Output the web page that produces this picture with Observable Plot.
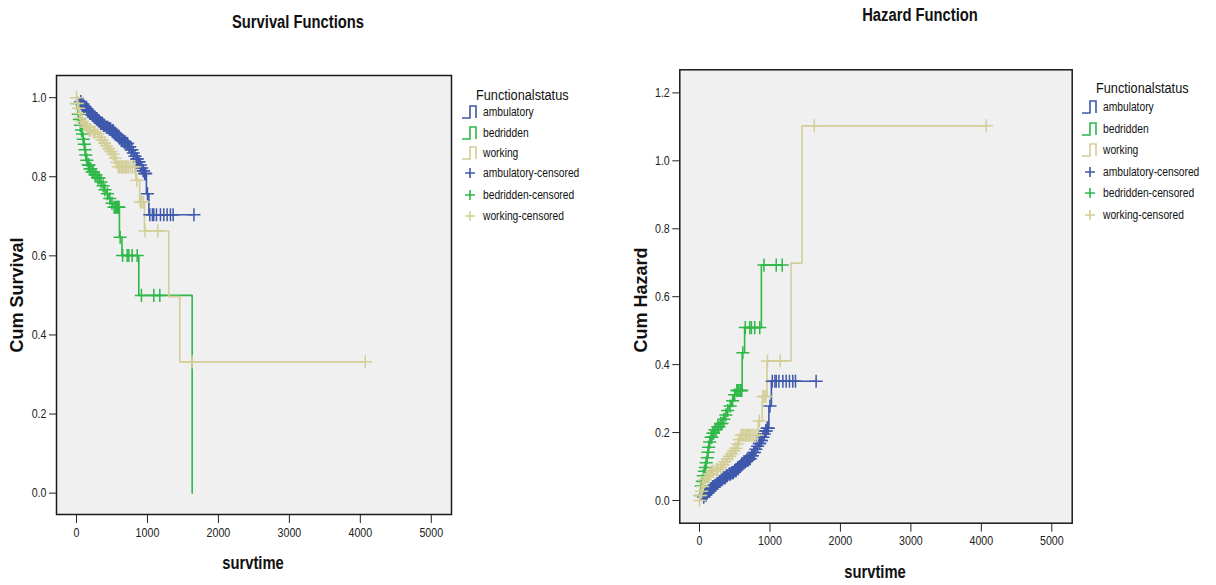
<!DOCTYPE html>
<html><head><meta charset="utf-8">
<script src="https://cdn.jsdelivr.net/npm/d3@7"></script>
<script src="https://cdn.jsdelivr.net/npm/@observablehq/plot@0.6"></script>
<style>
html,body{margin:0;padding:0;background:#fff;}
#root{position:relative;width:1216px;height:585px;overflow:hidden;font-family:'Liberation Sans',Arial,sans-serif;color:#111;}
.abs{position:absolute;white-space:nowrap;line-height:1;}
.ctr{transform:translate(-50%,-50%) scaleX(0.82);}
.title{font-weight:bold;font-size:18px;}
.xlab{font-weight:bold;font-size:18px;}
.ylab{font-weight:bold;font-size:18px;transform:translate(-50%,-50%) rotate(-90deg);}
.legtitle{font-size:15.5px;transform-origin:0 50%;transform:translateY(-50%) scaleX(0.82);}
.legtext{font-size:12.5px;transform-origin:0 50%;transform:translateY(-50%) scaleX(0.82);}
.chart{position:absolute;top:0;}
.chart svg{overflow:visible;}
</style></head>
<body><div id="root"></div>
<script>
// ---------- data ----------
const groups = ["ambulatory", "bedridden", "working"];
const groupColors = ["#3e58ac", "#2eb848", "#d3ce97"];
const legendLabels = ["ambulatory", "bedridden", "working", "ambulatory-censored", "bedridden-censored", "working-censored"];
const xTicks = [0, 1000, 2000, 3000, 4000, 5000];
const survTicks = [0, 0.2, 0.4, 0.6, 0.8, 1.0];
const hazTicks = [0, 0.2, 0.4, 0.6, 0.8, 1.0, 1.2];

// ambulatory
const ambTime = [0,20,45,70,95,120,150,180,210,240,270,300,335,370,410,450,490,530,560,590,620,660,700,730,760,790,815,840,865,890,910,930,950,985,1020];
const ambSurv = [1,0.995,0.99,0.984,0.978,0.972,0.966,0.961,0.956,0.951,0.946,0.941,0.935,0.93,0.925,0.921,0.916,0.91,0.905,0.898,0.892,0.888,0.884,0.876,0.868,0.86,0.852,0.845,0.838,0.83,0.822,0.815,0.808,0.757,0.704];
const ambHaz  = [0,0.005,0.010,0.016,0.022,0.028,0.035,0.040,0.045,0.050,0.056,0.061,0.067,0.073,0.078,0.082,0.088,0.094,0.100,0.108,0.114,0.119,0.123,0.132,0.141,0.151,0.160,0.168,0.177,0.186,0.196,0.205,0.213,0.278,0.351];
const ambCensor = [60,75,90,100,110,125,135,145,160,170,185,195,205,220,230,250,260,280,290,310,320,340,355,365,380,395,420,430,440,460,470,480,500,510,520,540,550,570,580,600,610,630,640,650,670,680,690,710,720,740,750,770,780,800,825,850,855,875,880,900,920,940,945,960,970,975,1000,1033,1070,1089,1127,1183,1230,1277,1324,1362,1655];

// bedridden
const bedTime = [0,5,12,20,30,45,60,75,90,100,115,125,140,155,180,210,250,290,330,360,390,420,450,480,510,605,640,878,1630];
const bedSurv = [1,0.985,0.97,0.958,0.945,0.93,0.918,0.908,0.895,0.882,0.868,0.855,0.842,0.83,0.82,0.812,0.805,0.797,0.787,0.777,0.767,0.757,0.745,0.733,0.723,0.647,0.601,0.5,0];
const bedHaz  = [0,0.015,0.030,0.043,0.057,0.073,0.086,0.097,0.111,0.126,0.142,0.157,0.172,0.186,0.198,0.208,0.217,0.227,0.239,0.252,0.265,0.278,0.294,0.311,0.324,0.435,0.509,0.693];
const bedCensor = [10,25,40,55,70,85,95,110,120,130,145,165,175,190,200,220,235,260,275,300,320,345,375,400,435,470,500,530,545,560,580,590,600,615,650,714,737,784,855,915,1089,1174];

// working
const workTime = [0,10,20,35,50,70,95,130,170,220,280,320,350,380,410,440,470,500,530,555,575,835,890,958,1300,1455];
const workSurv = [1,0.985,0.973,0.96,0.948,0.94,0.932,0.925,0.918,0.913,0.908,0.9,0.892,0.885,0.878,0.871,0.864,0.857,0.847,0.836,0.825,0.791,0.736,0.663,0.497,0.332];
const workHaz  = [0,0.015,0.027,0.041,0.053,0.062,0.070,0.078,0.086,0.091,0.097,0.105,0.114,0.122,0.130,0.138,0.146,0.154,0.166,0.179,0.192,0.234,0.306,0.411,0.699,1.103];
const workCensor = [0,15,30,45,60,80,105,120,140,155,180,200,240,260,300,330,360,395,425,455,485,515,545,565,590,610,630,650,670,690,710,730,760,790,820,850,900,920,945,965,1145,1629,4070];

const seriesTime = [ambTime, bedTime, workTime];
const seriesSurv = [ambSurv, bedSurv, workSurv];
const seriesHaz = [ambHaz, bedHaz, workHaz];
const seriesCensor = [ambCensor, bedCensor, workCensor];

// ---------- build tables ----------
function stepTable(times, vals, censor) {
  const tt = times.slice(0, vals.length);
  const rows = tt.map((t, i) => ({t, v: vals[i]}));
  const end = Math.max(tt[tt.length - 1], censor[censor.length - 1]);
  if (end > tt[tt.length - 1]) rows.push({t: end, v: vals[vals.length - 1]});
  return rows;
}
function censorTable(times, vals, censor) {
  const tt = times.slice(0, vals.length);
  return censor.map(t => ({t, v: vals[Math.max(0, d3.bisectRight(tt, t) - 1)]}));
}

const FONT = "'Liberation Sans',Arial,sans-serif";

function makeChart(valsList, opts) {
  const marks = [Plot.frame({fill: "#f0f0f0"})];
  groups.forEach((g, i) => {
    marks.push(Plot.line(stepTable(seriesTime[i], valsList[i], seriesCensor[i]),
      {x: "t", y: "v", curve: "step-after", stroke: groupColors[i], strokeWidth: 1.6}));
  });
  groups.forEach((g, i) => {
    marks.push(Plot.dot(censorTable(seriesTime[i], valsList[i], seriesCensor[i]),
      {x: "t", y: "v", symbol: "plus", r: 4.3, stroke: groupColors[i], strokeWidth: 1.5}));
  });
  marks.push(Plot.frame({stroke: "#1a1a1a", strokeWidth: 1.5}));
  const svg = Plot.plot({
    width: opts.w, height: opts.h,
    marginLeft: opts.ml, marginRight: opts.mr, marginTop: opts.mt, marginBottom: opts.mb,
    style: {background: "transparent", fontFamily: FONT, fontSize: "13px", color: "#222"},
    x: {domain: opts.xd, ticks: xTicks, tickFormat: d3.format("d"), tickSize: 9, tickPadding: 4, label: null},
    y: {domain: opts.yd, ticks: opts.yt, tickFormat: d3.format(".1f"), tickSize: 7, tickPadding: 3, label: null},
    marks
  });
  // condense tick label glyphs horizontally (narrow face of the original)
  svg.querySelectorAll('g[aria-label$="tick label"] text').forEach(t => {
    const x = +t.getAttribute("x") || 0;
    const tr = t.getAttribute("transform") || "";
    t.setAttribute("transform", `${tr} translate(${x},0) scale(0.82,1) translate(${-x},0)`);
  });
  return svg;
}

const root = document.getElementById("root");
function addDiv(cls, text, x, y) {
  const d = document.createElement("div");
  d.className = "abs " + cls;
  d.textContent = text;
  d.style.left = x + "px";
  d.style.top = y + "px";
  root.appendChild(d);
  return d;
}

// left chart
const leftWrap = document.createElement("div");
leftWrap.className = "chart"; leftWrap.style.left = "0px";
leftWrap.appendChild(makeChart(seriesSurv, {w: 460, h: 585, ml: 56, mr: 9, mt: 75, mb: 71,
  xd: [-282, 5285], yd: [-0.054, 1.056], yt: survTicks}));
root.appendChild(leftWrap);

// right chart
const rightWrap = document.createElement("div");
rightWrap.className = "chart"; rightWrap.style.left = "620px";
rightWrap.appendChild(makeChart(seriesHaz, {w: 460, h: 585, ml: 59.3, mr: 8.3, mt: 69.3, mb: 62.3,
  xd: [-279.6, 5289.5], yd: [-0.0668, 1.268], yt: hazTicks}));
root.appendChild(rightWrap);

// titles & axis labels
addDiv("title ctr", "Survival Functions", 298, 22);
addDiv("title ctr", "Hazard Function", 920, 15);
addDiv("xlab ctr", "survtime", 253, 563);
addDiv("xlab ctr", "survtime", 875, 572);
addDiv("ylab", "Cum Survival", 17, 295);
addDiv("ylab", "Cum Hazard", 641, 300);

// legends
function legend(x0, titleY, rowYs) {
  addDiv("legtitle", "Functionalstatus", x0 + 15, titleY);
  legendLabels.forEach((lab, i) => {
    const y = rowYs[i];
    const ci = i % 3;
    const svgNS = "http://www.w3.org/2000/svg";
    const s = document.createElementNS(svgNS, "svg");
    s.setAttribute("width", 18); s.setAttribute("height", 16);
    s.style.position = "absolute"; s.style.left = x0 + "px"; s.style.top = (y - 8) + "px";
    const p = document.createElementNS(svgNS, "path");
    if (i < 3) p.setAttribute("d", "M1,14H9V2H15V14");
    else p.setAttribute("d", "M4,8H14M9,3V13");
    p.setAttribute("fill", "none");
    p.setAttribute("stroke", groupColors[ci]);
    p.setAttribute("stroke-width", 1.6);
    s.appendChild(p);
    root.appendChild(s);
    addDiv("legtext", lab, x0 + 22, y);
  });
}
legend(461, 95, [112, 133, 153, 173, 195, 216]);
legend(1081, 88, [107, 129, 150, 172, 193, 215]);
</script></body></html>
